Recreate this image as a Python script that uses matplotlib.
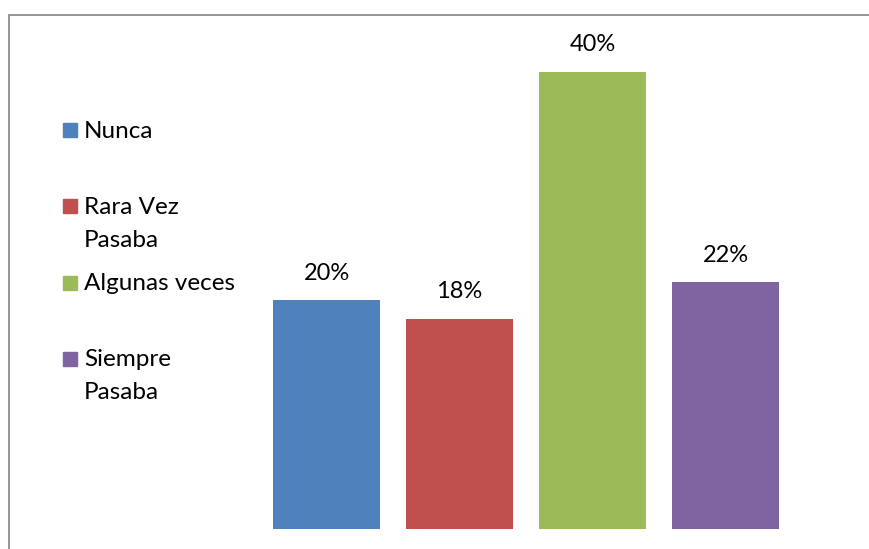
import matplotlib
matplotlib.use("Agg")
import matplotlib.pyplot as plt
from matplotlib.patches import Rectangle

categories = ["Nunca", "Rara Vez\nPasaba", "Algunas veces", "Siempre\nPasaba"]
values = [0.20, 0.184, 0.40, 0.216]
labels = ["20%", "18%", "40%", "22%"]
colors = ["#4F81BD", "#C0504D", "#9BBB59", "#8064A2"]

W, H = 869, 549
plt.rcParams['font.family'] = ['Lato', 'DejaVu Sans']
fig = plt.figure(figsize=(W / 100, H / 100), dpi=100)

def fx(px):
    return px / W

def fy(py):
    return 1 - py / H

# Axes area for bars
left_px, top_px, bottom_px, right_px = 8.5, 15, 528.7, 869
ax = fig.add_axes([fx(left_px), fy(bottom_px), fx(right_px - left_px), (bottom_px - top_px) / H])
ax.set_axis_off()
xs = list(range(len(values)))
bars = ax.bar(xs, values, width=0.8, color=colors)
unit = 133.0
xl = -(326.5 - left_px) / unit
ax.set_xlim(xl, xl + (right_px - left_px) / unit)
ax.set_ylim(0, 0.45)
for b, lab in zip(bars, labels):
    ax.annotate(lab, (b.get_x() + b.get_width() / 2, b.get_height()),
                xytext=(0, 19.5), textcoords="offset points",
                ha="center", va="center", fontsize=17, color="#000000")

# Frame around chart
fig.patches.append(Rectangle((fx(8.5), fy(560)), fx(880), (560 - 15) / H,
                             transform=fig.transFigure, fill=False,
                             edgecolor="#8c8c8c", linewidth=1.3))

# Legend (manual, first-line aligned)
y0 = 131
step = 76.3
for i, (cat, col) in enumerate(zip(categories, colors)):
    yc = y0 + i * step
    fig.patches.append(Rectangle((fx(63), fy(yc + 6)), fx(14), 14 / H,
                                 transform=fig.transFigure, color=col))
    lines = cat.split("\n")
    for j, ln in enumerate(lines):
        fig.text(fx(84), fy(yc + j * 33), ln, ha="left", va="center",
                 fontsize=17.5, color="#000000")

fig.savefig("out.png", dpi=100)
